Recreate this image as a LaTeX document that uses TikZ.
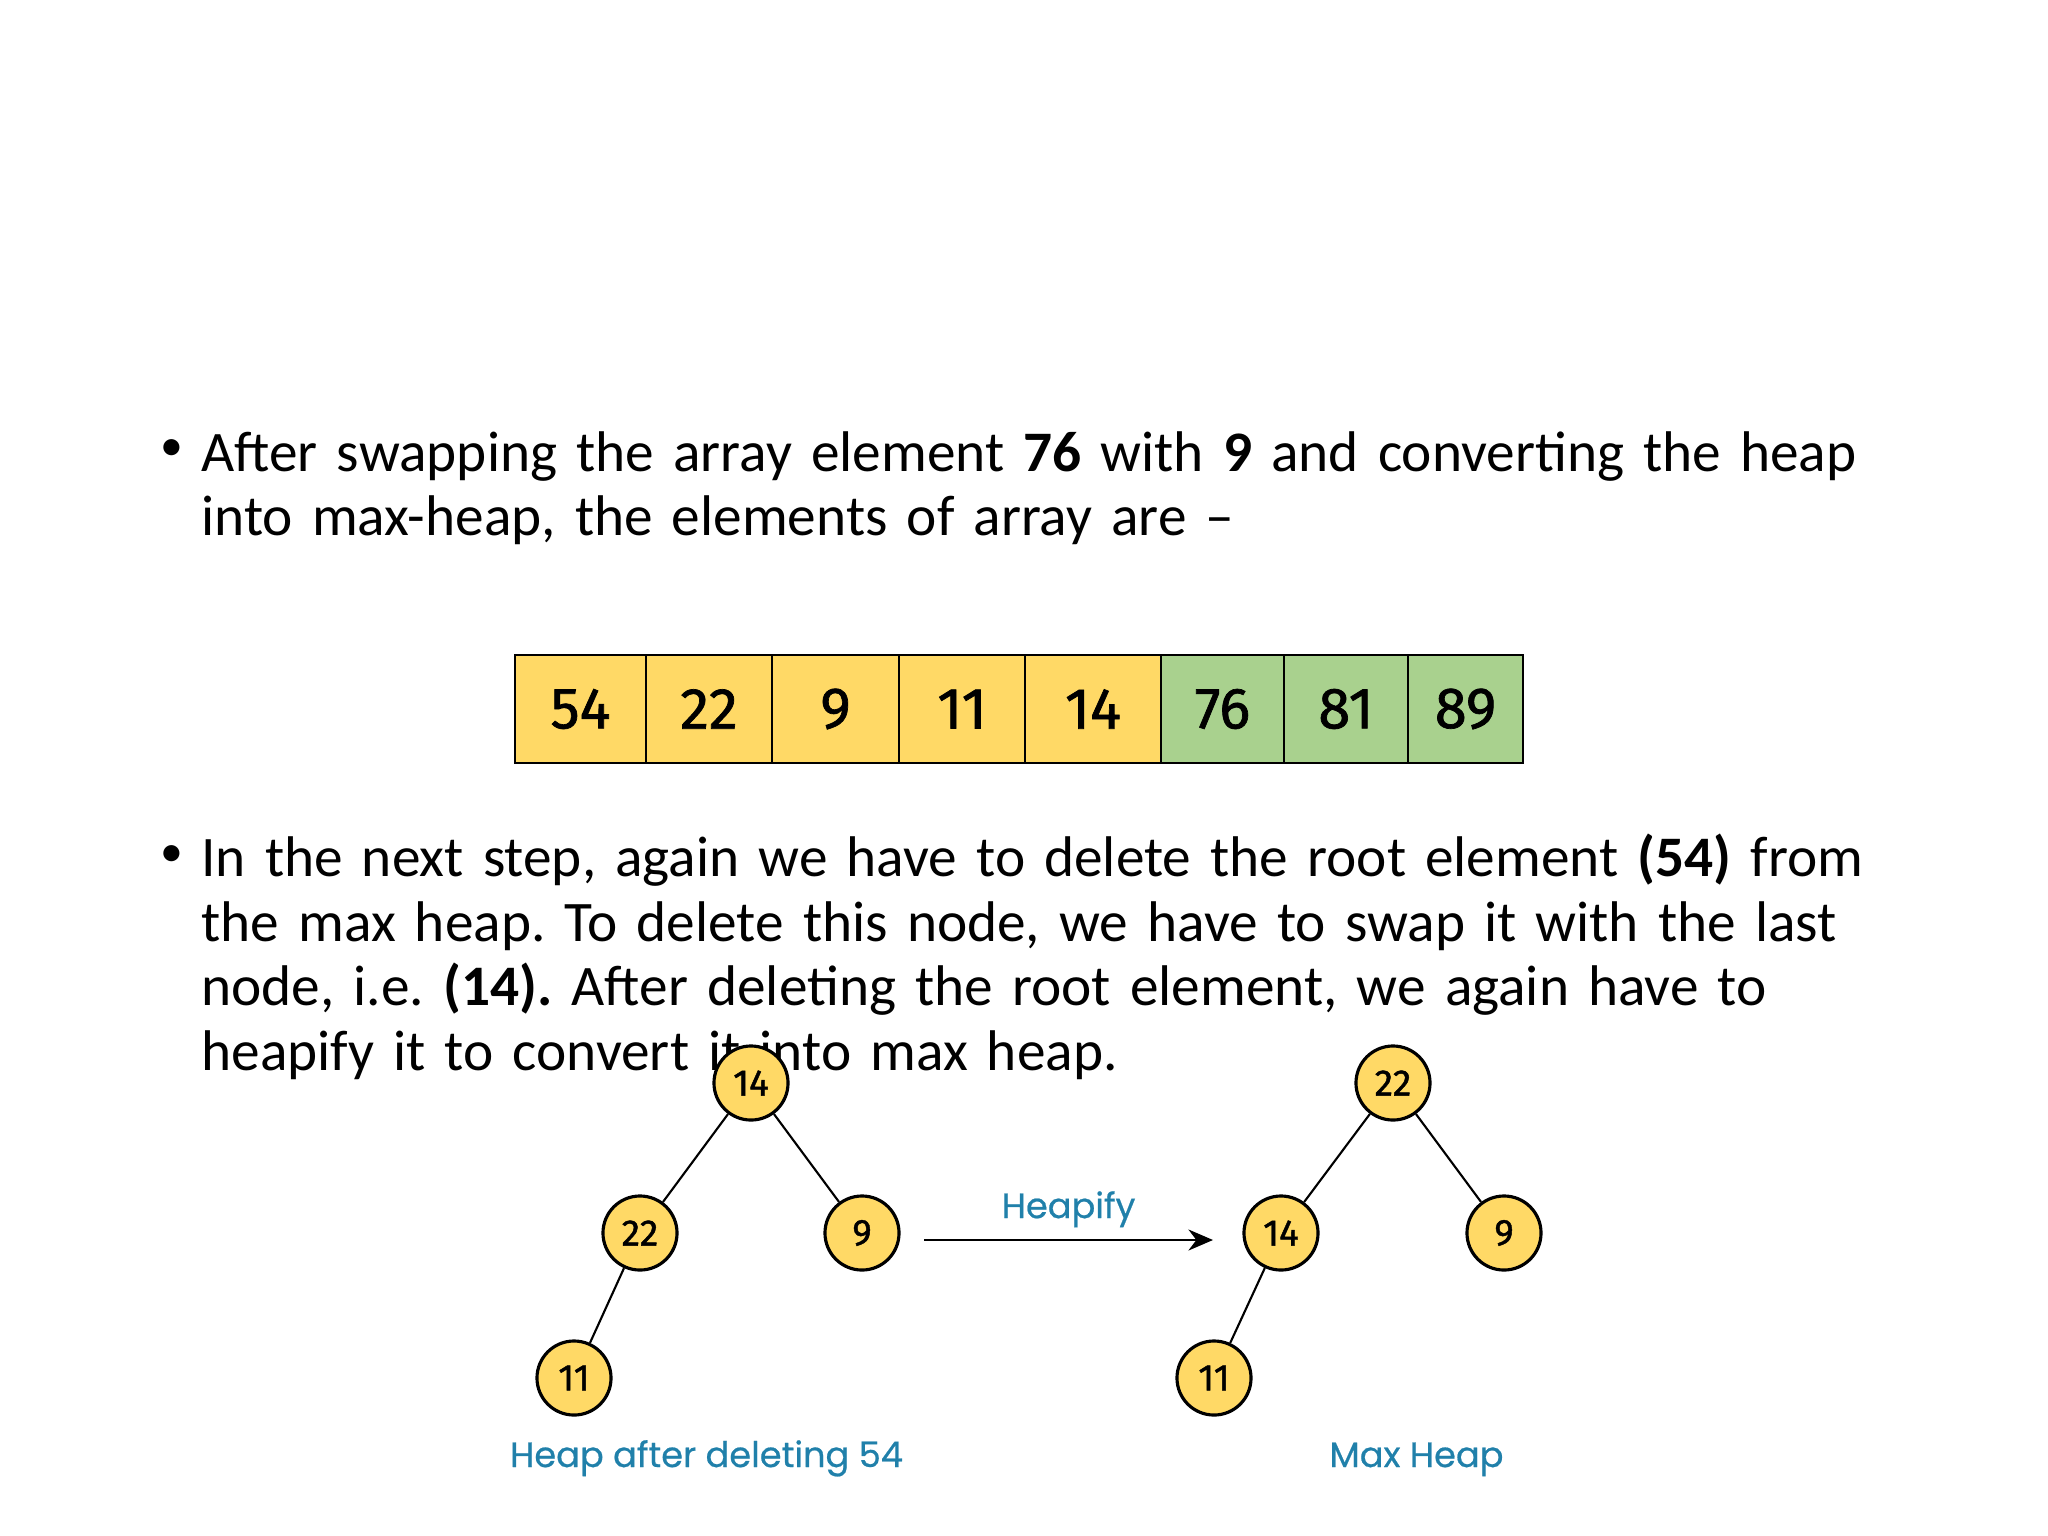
\documentclass[tikz,border=0pt]{standalone}
\usepackage{fontspec}
\setmainfont{Carlito}
\newfontfamily\numfont{Fira Sans}[FakeBold=1.2]
\newfontfamily\capfont{Poppins}[FakeBold=0.6]
\usetikzlibrary{arrows.meta}
\frenchspacing

\definecolor{heapyellow}{RGB}{255,217,102}
\definecolor{heapgreen}{RGB}{169,209,142}
\definecolor{capblue}{RGB}{32,128,170}

\tikzset{
  cell/.style={draw=black,line width=0.7pt,minimum height=1.08cm,inner sep=0pt,
    font=\numfont\fontsize{16.5pt}{16.5pt}\selectfont},
  hnode/.style={circle,draw=black,fill=heapyellow,line width=0.9pt,minimum size=0.74cm,
    inner sep=0pt,font=\numfont\fontsize{10.5pt}{10.5pt}\selectfont},
  heapcap/.style={text=capblue,anchor=base,font=\capfont\fontsize{10pt}{10pt}\selectfont},
  bodytext/.style={anchor=base west,align=left,text width=17.5cm,inner sep=0pt,
    font=\fontsize{16.3pt}{18.35pt}\selectfont},
  dot/.style={anchor=base,inner sep=0pt,font=\fontsize{13pt}{13pt}\selectfont}
}

\begin{document}
\begin{tikzpicture}[x=0.01cm,y=-0.01cm]
  \useasboundingbox (0,0) rectangle (2048,1536);

  \node[dot] (d1) at (171.7,460) {•};
  \node[bodytext] (p1) at (200.7,471) {
    After swapping the array element \textbf{76} with \textbf{9} and converting the heap\\
    into max-heap, the elements of array are –
  };

  \node[cell,fill=heapyellow,minimum width=1.31cm] (A0) at (580.5,709) {54};
  \node[cell,fill=heapyellow,minimum width=1.26cm] (A1) at (709,709) {22};
  \node[cell,fill=heapyellow,minimum width=1.27cm] (A2) at (835.5,709) {9};
  \node[cell,fill=heapyellow,minimum width=1.26cm] (A3) at (962,709) {11};
  \node[cell,fill=heapyellow,minimum width=1.36cm] (A4) at (1093,709) {14};
  \node[cell,fill=heapgreen,minimum width=1.23cm] (A5) at (1222.5,709) {76};
  \node[cell,fill=heapgreen,minimum width=1.24cm] (A6) at (1346,709) {81};
  \node[cell,fill=heapgreen,minimum width=1.15cm] (A7) at (1465.5,709) {89};

  \node[dot] (d2) at (171.7,866) {•};
  \node[bodytext] (p2) at (200.7,876.7) {
    In the next step, again we have to delete the root element \textbf{(54)} from\\
    the max heap. To delete this node, we have to swap it with the last\\
    node, i.e. \textbf{(14).} After deleting the root element, we again have to\\
    heapify it to convert it into max heap.
  };

  % heap after deleting 54
  \node[hnode] (a14) at (751,1083) {14};
  \node[hnode] (a22) at (640,1233) {22};
  \node[hnode] (a9) at (862,1233) {9};
  \node[hnode] (a11) at (574,1378) {11};
  \draw[line width=0.6pt] (a14) -- (a22) (a14) -- (a9) (a22) -- (a11);
  \node[heapcap] (c1) at (706.5,1467) {Heap after deleting 54};

  % max heap
  \node[hnode] (b22) at (1393,1083) {22};
  \node[hnode] (b14) at (1281,1233) {14};
  \node[hnode] (b9) at (1504,1233) {9};
  \node[hnode] (b11) at (1214,1378) {11};
  \draw[line width=0.6pt] (b22) -- (b14) (b22) -- (b9) (b14) -- (b11);
  \node[heapcap] (c2) at (1416.5,1467) {Max Heap};

  \coordinate (h0) at (924,1240);
  \coordinate (h1) at (1213,1240);
  \draw[line width=0.6pt,-{Stealth[length=7pt,width=6pt]}] (h0) -- node[above,heapcap,anchor=south] {Heapify} (h1);

\end{tikzpicture}
\end{document}
